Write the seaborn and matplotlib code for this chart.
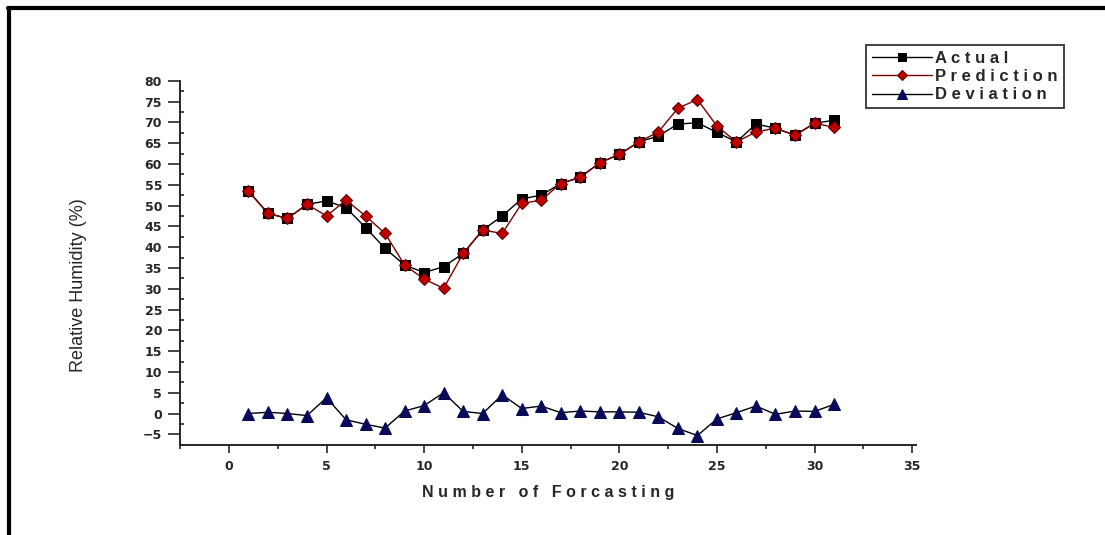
import numpy as np
import pandas as pd
import seaborn as sns
import matplotlib.pyplot as plt
from matplotlib.lines import Line2D
from matplotlib.ticker import MultipleLocator

# --- data -----------------------------------------------------------
forecast_no = list(range(1, 32))
actual = [53.5, 48.1, 46.9, 50.3, 51.1, 49.5, 44.7, 39.7, 35.7, 33.9,
          35.3, 38.5, 44.1, 47.5, 51.6, 52.5, 55.3, 56.8, 60.3, 62.3,
          65.3, 66.7, 69.6, 69.9, 67.6, 65.3, 69.6, 68.6, 66.9, 69.8, 70.5]
prediction = [53.5, 48.1, 46.9, 50.3, 47.5, 51.3, 47.5, 43.3, 35.7, 32.3,
              30.1, 38.5, 44.1, 43.3, 50.5, 51.3, 55.3, 56.8, 60.3, 62.3,
              65.3, 67.7, 73.4, 75.5, 69.1, 65.3, 67.7, 68.6, 66.9, 69.8, 68.8]
deviation = [0.0, 0.3, 0.0, -0.5, 3.8, -1.5, -2.6, -3.5, 0.6, 1.9,
             5.0, 0.5, 0.0, 4.5, 1.2, 1.8, 0.2, 0.6, 0.4, 0.4,
             0.3, -0.8, -3.6, -5.3, -1.3, 0.2, 1.8, -0.2, 0.6, 0.5, 2.2]

df = pd.DataFrame({'n': forecast_no, 'Actual': actual,
                   'Prediction': prediction, 'Deviation': deviation})

sns.set_style('ticks')
plt.rcParams['font.family'] = ['Liberation Sans', 'DejaVu Sans']

fig = plt.figure(figsize=(11.05, 5.35), dpi=100)
ax = fig.add_axes([0.163, 0.168, 0.666, 0.681])

sns.lineplot(data=df, x='n', y='Actual', ax=ax, color='black', lw=1.0,
             marker='s', markersize=7, markerfacecolor='black',
             markeredgecolor='black', label='Actual')
sns.lineplot(data=df, x='n', y='Prediction', ax=ax, color='#7a0000', lw=1.0,
             marker='D', markersize=6, markerfacecolor='#c00000',
             markeredgecolor='#5a0000', label='Prediction')
sns.lineplot(data=df, x='n', y='Deviation', ax=ax, color='black', lw=1.0,
             marker='^', markersize=9, markerfacecolor='#0a0a5a',
             markeredgecolor='#0a0a5a', label='Deviation')

ax.set_xlim(-2.5, 35.2)
ax.set_ylim(-7.6, 80)
ax.xaxis.set_major_locator(MultipleLocator(5))
ax.xaxis.set_minor_locator(MultipleLocator(2.5))
ax.set_yticks(np.arange(-5, 81, 5))
ax.yaxis.set_minor_locator(MultipleLocator(2.5))
ax.tick_params(axis='y', which='major', length=9, width=1.2,
               labelsize=9, direction='out', pad=4)
ax.tick_params(axis='x', which='major', length=6, width=1.2,
               labelsize=9, direction='out', pad=5)
ax.tick_params(axis='x', which='minor', length=3, width=1.2, direction='out')
ax.tick_params(axis='y', which='minor', length=3, width=1.2, direction='in')
for lab in ax.get_xticklabels() + ax.get_yticklabels():
    lab.set_fontweight('bold')
    lab.set_family('DejaVu Sans')

sns.despine(ax=ax)
ax.spines['left'].set_linewidth(1.4)
ax.spines['bottom'].set_linewidth(1.4)

ax.set_xlabel('N u m b e r   o f   F o r c a s t i n g', fontsize=11.5,
              fontweight='bold', labelpad=8)
ax.set_ylabel('Relative Humidity (%)', fontsize=13)
ax.yaxis.set_label_coords(-0.127, 0.44)

leg = ax.legend(loc='upper left', bbox_to_anchor=(0.784, 0.916),
                bbox_transform=fig.transFigure, borderaxespad=0,
                frameon=True, fancybox=False,
                handlelength=3.6, handletextpad=0.2, borderpad=0.35,
                labelspacing=0.2, markerscale=0.8,
                prop={'weight': 'bold', 'size': 12})
leg.get_frame().set_edgecolor('black')
leg.get_frame().set_linewidth(1.3)
for t in leg.get_texts():
    t.set_text(' '.join(t.get_text()))

# outer frame (top and left edges only)
fig.add_artist(Line2D([0.007, 1.0], [0.985, 0.985], color='black', lw=3,
                      transform=fig.transFigure))
fig.add_artist(Line2D([0.008, 0.008], [0.0, 0.985], color='black', lw=3,
                      transform=fig.transFigure))

fig.savefig('out.png', dpi=100)
